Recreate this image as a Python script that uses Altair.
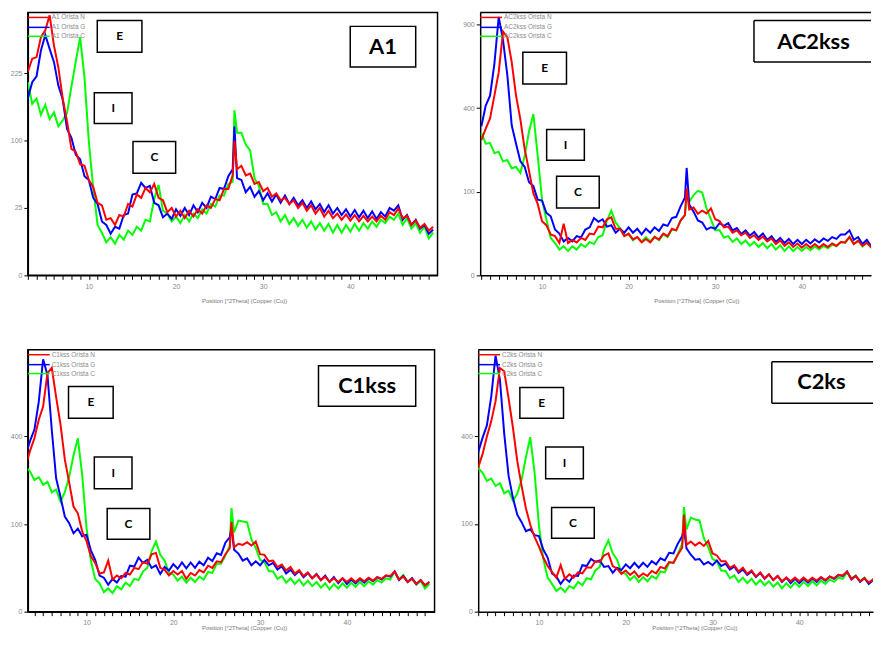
import altair as alt
import pandas as pd

# 2-theta positions (degrees)
X = [3.0, 3.5, 4.0, 4.5, 5.0, 5.5, 6.0, 6.5, 7.0, 7.5, 8.0, 8.5, 9.0, 9.5, 10.0, 10.5, 11.0, 11.5, 12.0, 12.5,
     13.0, 13.5, 14.0, 14.5, 15.0, 15.5, 16.0, 16.5, 17.0, 17.5, 18.0, 18.5, 19.0, 19.5, 20.0, 20.5, 21.0, 21.5,
     22.0, 22.5, 23.0, 23.5, 24.0, 24.5, 25.0, 25.5, 26.0, 26.5, 26.7, 27.0, 27.5, 28.0, 28.5, 29.0, 29.5, 30.0,
     30.5, 31.0, 31.5, 32.0, 32.5, 33.0, 33.5, 34.0, 34.5, 35.0, 35.5, 36.0, 36.5, 37.0, 37.5, 38.0, 38.5, 39.0,
     39.5, 40.0, 40.5, 41.0, 41.5, 42.0, 42.5, 43.0, 43.5, 44.0, 44.5, 45.0, 45.5, 46.0, 46.5, 47.0, 47.5, 48.0,
     48.5, 49.0, 49.5]

# ---- A1 ----
A1_N = [228, 258, 262, 312, 330, 372, 290, 238, 172, 130,
        88, 84, 68, 66, 50, 43, 29, 27, 17, 18,
        14, 20, 19, 28, 26, 36, 33, 42, 38, 46,
        33, 31, 22, 25, 19, 23, 18, 23, 19, 24,
        21, 27, 25, 32, 31, 41, 41, 55,
        100,
        62, 66, 55, 57, 46, 48, 39, 42, 34, 37,
        31, 33, 28, 31, 25, 29, 23, 27, 21, 25,
        19, 23, 18, 21, 17, 20.5, 16.5, 20, 16, 19.5,
        16, 19, 16, 19.5, 17, 22, 20, 24.5, 18, 19.5,
        14, 16.5, 12.5, 14.5, 11, 13]
A1_G = [172, 205, 218, 278, 318, 282, 250, 198, 170, 118,
        104, 80, 74, 54, 50, 33, 28, 16, 14, 9.5,
        13, 12, 20, 21, 36, 37, 47, 42, 44, 29,
        27, 18.5, 21, 17.5, 24, 19.5, 25, 20, 27, 22,
        29, 25, 34, 32, 42, 41, 54, 62,
        122,
        52, 50, 38, 43, 34, 39, 31, 37, 30, 36,
        29, 35, 28, 33, 27, 31, 25, 30, 24, 28,
        22, 27, 21, 25, 20, 24, 19, 23.5, 18.5, 23,
        18, 22.5, 17.5, 22, 19, 25, 23, 27, 17, 20,
        14, 17, 12, 14, 9.5, 11.5]
A1_C = [205, 162, 172, 142, 160, 134, 146, 122, 132, 145,
        196, 252, 312, 215, 98, 42, 14, 10, 6, 8,
        5.5, 9, 7, 11, 9, 13, 11, 17, 16, 32,
        45, 23, 21, 16, 19, 15, 20, 16, 21, 18,
        24, 21, 28, 26, 35, 35, 46, 48,
        150,
        112, 112, 94, 86, 52, 44, 28, 28, 20, 22,
        16, 20, 14.5, 18, 13.5, 17, 12.5, 16, 11.5, 15,
        11, 14.5, 10, 14, 10, 14, 10.5, 14.5, 11, 15,
        12, 16, 13, 17, 15, 19, 17, 21, 14, 18,
        12, 15, 10, 13, 7.5, 10]

# ---- AC2kss ----
AC2_N = [262, 308, 352, 462, 590, 850, 810, 650, 462, 348,
         228, 156, 96, 73, 42, 36, 24, 22, 15, 38,
         15, 18, 15.5, 20, 18, 25, 24, 34, 33, 45,
         48, 31, 31, 22, 25, 18.5, 21, 15.5, 19, 15.5,
         21, 18.5, 25, 22, 31, 29, 43, 52,
         108,
         62, 66, 54, 60, 55, 64, 45, 42, 33, 34,
         26, 29, 23, 26, 20, 23, 18, 21.5, 16.5, 19.5,
         14, 17.5, 12.5, 15.5, 11.5, 14.5, 11, 14, 11, 14,
         11, 14, 11.5, 14.5, 12.5, 16, 15.5, 21, 14, 17,
         12.5, 15, 11.5, 14, 10.5, 13]
AC2_G = [318, 412, 462, 640, 955, 790, 570, 322, 248, 186,
         168, 124, 114, 82, 80, 56, 50, 30, 25, 16.5,
         20, 16.5, 22, 20.5, 30, 33, 47, 41, 45, 34,
         36, 26, 31, 26, 33, 26, 31, 24, 31, 26,
         33, 28, 37, 35, 47, 49, 68, 86,
         165,
         72, 58, 43, 40, 30, 33, 31, 39, 35, 39,
         29, 32, 24.5, 29, 22.5, 27, 20.5, 25, 18, 22,
         16, 20, 15, 19, 14, 18, 14, 18, 14.5, 18.5,
         15.5, 19.5, 17, 21, 19, 24, 24, 29, 18, 21,
         14, 18, 12, 15.5, 11, 14]
AC2_C = [290, 248, 250, 214, 218, 186, 190, 164, 168, 150,
         205, 296, 372, 205, 82, 45, 20, 15, 9.5, 12,
         8.5, 12, 9.5, 14, 11.5, 16, 14, 21, 23, 43,
         60, 40, 32, 22.5, 24, 17.5, 21, 16.5, 21, 16.5,
         21.5, 17.5, 24, 21, 30, 29, 43, 52,
         90,
         78, 92, 102, 98, 64, 45, 29, 29, 20.5, 22,
         16, 19.5, 14, 17.5, 12.5, 16, 11.5, 15, 10.5, 14,
         9.5, 13, 8.5, 12, 8.5, 11.5, 8.5, 11.5, 9, 12,
         9.5, 12.5, 10.5, 13.5, 12, 16, 15, 21, 14, 17.5,
         12, 15.5, 11, 15, 11, 14.5]

# ---- C1kss ----
C1_N = [280, 338, 392, 480, 548, 742, 775, 600, 458, 302,
        218, 144, 126, 84, 65, 40, 31, 19, 20, 34,
        13.5, 17, 14.5, 19.5, 18, 25, 23.5, 32, 30, 43,
        45, 25, 23, 17, 21.5, 18, 21.5, 14, 19.5, 17,
        22.5, 20, 27.5, 25, 33, 32, 43, 52,
        105,
        54, 60, 58, 63, 57, 64, 43, 42, 33, 34,
        26, 29, 22, 26, 19, 22.5, 16.5, 20, 14.5, 18,
        13, 16, 11.5, 14.5, 11.5, 14.5, 11.5, 14.5, 11.5, 14.5,
        12, 15, 12.5, 15.5, 14, 17, 16.5, 21, 13.5, 16,
        11.5, 14, 10, 13, 9, 11.5]
C1_G = [322, 380, 432, 575, 830, 730, 430, 232, 172, 118,
        102, 80, 90, 74, 77, 49, 35, 17, 15, 9.5,
        14, 11, 16.5, 16, 27.5, 26.5, 38, 31, 35, 25,
        28, 18.5, 26, 22, 29.5, 24, 31.5, 24.5, 31.5, 25,
        32.5, 28, 38, 33.5, 44.5, 42, 62, 72,
        92,
        50, 44, 34, 37, 28, 33, 28, 35, 28, 31,
        23, 27, 19, 23, 17.5, 21.5, 15.5, 19.5, 14.5, 18.5,
        13, 17, 11.5, 15.5, 10.5, 14.5, 10, 13.5, 10.5, 14,
        11, 14.5, 12, 15.5, 13.5, 17, 16, 21, 13, 16.5,
        11.5, 14.5, 10, 13, 9, 11.5]
C1_C = [272, 256, 226, 236, 210, 220, 186, 194, 158, 186,
        236, 318, 392, 245, 92, 34, 14, 10.5, 5, 7,
        4.5, 8.5, 6.5, 11, 8.5, 14, 13, 21, 25, 48,
        64, 42, 34, 19.5, 18, 12.5, 16, 11, 15, 11.5,
        16, 13.5, 20.5, 19.5, 30, 30, 41, 57,
        140,
        82, 108, 106, 104, 68, 53, 35, 32, 21.5, 21,
        14, 16.5, 11, 14.5, 10, 13.5, 9, 12.5, 8.5, 11.5,
        7.5, 10.5, 6.5, 10, 7, 10.5, 7.5, 11, 8, 11.5,
        8.5, 12, 9.5, 13, 11, 14.5, 13.5, 21, 14, 17.5,
        11.5, 14.5, 9.5, 12.5, 7, 10]

# ---- C2ks ----
C2_N = [270, 322, 398, 470, 575, 770, 750, 590, 440, 295,
        205, 138, 98, 72, 55, 38, 27, 20.5, 15, 28,
        14, 18, 15, 20, 19, 25.5, 25, 33, 32, 41,
        44, 27, 24, 18.5, 22, 17.5, 21, 15.5, 19, 16.5,
        21.5, 19, 26, 24, 32, 31, 42, 53,
        122,
        58, 64, 57, 62, 56, 65, 44, 41, 33, 33,
        25, 28, 21, 25, 18.5, 22, 16, 20, 14.5, 18,
        13, 16.5, 12, 15, 12, 15, 12, 15, 12, 15,
        12.5, 15.5, 13, 16, 14.5, 17.5, 17, 20.5, 14, 16.5,
        12, 14.5, 11, 13.5, 10, 12]
C2_G = [330, 392, 450, 600, 850, 700, 410, 240, 168, 122,
        104, 84, 88, 76, 74, 50, 38, 19, 16, 10,
        14.5, 11.5, 17, 16.5, 28, 27, 36, 32, 34, 26,
        27, 19.5, 25, 22.5, 29, 24.5, 31, 25, 31, 26,
        33, 29, 37, 34, 45, 44, 60, 74,
        90,
        52, 42, 35, 36, 29, 32, 28, 34, 27, 30,
        23, 26.5, 19.5, 23, 17.5, 21, 15.5, 19.5, 14, 18,
        13, 16.5, 11.5, 15, 10.5, 14, 10.5, 14, 11, 14.5,
        11.5, 15, 12.5, 16, 14, 17.5, 16.5, 21, 13.5, 16.5,
        11.5, 14.5, 10, 13, 9.5, 12]
C2_C = [268, 250, 222, 230, 205, 214, 182, 190, 160, 180,
        226, 310, 395, 250, 96, 36, 15, 10, 5.5, 7.5,
        5, 8.5, 7, 11.5, 9, 14.5, 13.5, 22, 26, 50,
        66, 44, 35, 20, 18.5, 13, 16.5, 11.5, 15.5, 12,
        16.5, 14, 21, 20, 31, 31, 43, 60,
        142,
        88, 115, 110, 108, 70, 54, 36, 33, 22, 21.5,
        14.5, 17, 11.5, 15, 10.5, 14, 9.5, 13, 9, 12,
        8, 11, 7, 10.5, 7.5, 11, 8, 11.5, 8.5, 12,
        9, 12.5, 10, 13.5, 11.5, 15, 14, 20, 14.5, 17,
        12, 15, 10, 13, 8, 11]

X_TICKS = list(range(3, 50))
X_TITLE = "Position [°2Theta] (Copper (Cu))"

RED, BLUE, GREEN = "#ff0000", "#0000ff", "#00ff00"
DUMMY = pd.DataFrame({"d": [0]})


def rule(x0, x1, y0, y1, color="black", sw=1.5):
    return alt.Chart(DUMMY).mark_rule(color=color, strokeWidth=sw).encode(
        x=alt.value(x0), x2=alt.value(x1), y=alt.value(y0), y2=alt.value(y1))


def panel(name, n, g, c, xdom, ymax, yticks, w, h, yext, big_box, big_center, small_boxes, sample,
          cut_right=False, title_pad=7, x_ext=15):
    df = pd.DataFrame({"x": X, "N": n, "G": g, "C": c})
    xscale = alt.Scale(domain=xdom, nice=False, zero=False)
    yscale = alt.Scale(type="sqrt", domain=[0, ymax], nice=False, zero=True)
    xaxis = alt.Axis(values=X_TICKS, labelExpr="datum.value % 10 === 0 ? datum.value : ''",
                     title=X_TITLE, grid=False, tickSize=4, tickColor="black", tickWidth=1,
                     domainColor="black", domainWidth=1.5, labelFontSize=7, labelColor="#888888",
                     labelPadding=3, labelOverlap=False, labelFlush=False,
                     titleFontSize=6, titleFontWeight="normal", titleColor="#777777",
                     titlePadding=title_pad, titleX=218, minExtent=x_ext, maxExtent=x_ext)
    yaxis = alt.Axis(values=yticks, title=None, grid=False, tickSize=4, tickColor="black",
                     domainColor="black", domainWidth=1.5, labelFontSize=7, labelColor="#888888",
                     labelPadding=2, minExtent=yext, maxExtent=yext)
    layers = []
    for key, col in [("C", GREEN), ("G", BLUE), ("N", RED)]:
        layers.append(alt.Chart(df).mark_line(color=col, strokeWidth=2, clip=True).encode(
            x=alt.X("x:Q", scale=xscale, axis=xaxis),
            y=alt.Y(f"{key}:Q", scale=yscale, axis=yaxis)))
    # legend inside top-left
    for (key, col), ry in zip([("N", RED), ("G", BLUE), ("C", GREEN)], [5, 15, 24]):
        layers.append(rule(0, 22, ry, ry, col))
        layers.append(alt.Chart(DUMMY).mark_text(text=f"{sample} {key}", fontSize=6.5, color="#8a8a8a",
                                                 align="left", baseline="middle").encode(
            x=alt.value(24), y=alt.value(ry)))
    # sample label box
    x0, x1, y0, y1 = big_box
    if cut_right:
        x1 = w
        layers.append(alt.Chart(DUMMY).mark_rect(fill="white").encode(
            x=alt.value(x0), x2=alt.value(x1), y=alt.value(y0), y2=alt.value(y1)))
        layers.append(rule(x0, x1, y0, y0))
        layers.append(rule(x0, x1, y1, y1))
        layers.append(rule(x0, x0, y0, y1))
    else:
        layers.append(alt.Chart(DUMMY).mark_rect(fill="white", stroke="black", strokeWidth=1.5).encode(
            x=alt.value(x0), x2=alt.value(x1), y=alt.value(y0), y2=alt.value(y1)))
    layers.append(alt.Chart(DUMMY).mark_text(text=name, font="Lato", fontWeight="bold", fontSize=22,
                                             color="black", align="center", baseline="middle").encode(
        x=alt.value(big_center[0]), y=alt.value(big_center[1])))
    for lab, (bx0, bx1, by0, by1) in small_boxes:
        layers.append(alt.Chart(DUMMY).mark_rect(fill="white", stroke="black", strokeWidth=1.5).encode(
            x=alt.value(bx0), x2=alt.value(bx1), y=alt.value(by0), y2=alt.value(by1)))
        layers.append(alt.Chart(DUMMY).mark_text(text=lab, font="Lato", fontWeight="bold", fontSize=12,
                                                 color="black", align="center", baseline="middle").encode(
            x=alt.value((bx0 + bx1) / 2), y=alt.value((by0 + by1) / 2)))
    if cut_right:
        # the picture is cut at the right: only the top edge of the frame is visible
        layers.append(rule(0, w, 0, 0))
        return alt.layer(*layers).properties(width=w, height=h,
                                             view=alt.ViewBackground(stroke="transparent"))
    return alt.layer(*layers).properties(width=w, height=h)


pA1 = panel("A1", A1_N, A1_G, A1_C, [3.0, 50.0], 380, [0, 25, 100, 225], 413, 265, 19,
            (325, 391, 14, 55), (358, 35),
            [("E", (70, 115, 8, 40)), ("I", (67, 105, 81, 112)), ("C", (106, 149, 130, 162))],
            "A1 Orista")
pAC2 = panel("AC2kss", AC2_N, AC2_G, AC2_C, [2.86, 47.99], 988, [0, 100, 400, 900], 394, 265, 19,
             (276, 394, 8, 50), (336, 30),
             [("E", (43, 87, 40, 72)), ("I", (67, 105, 118, 149)), ("C", (77, 120, 165, 197))],
             "AC2kss Orista", cut_right=True)
pC1 = panel("C1kss", C1_N, C1_G, C1_C, [3.24, 50.1], 894, [0, 100, 400], 410, 264, 16,
            (293, 391, 16, 57), (342, 37),
            [("E", (41, 86, 37, 69)), ("I", (67, 105, 108, 140)), ("C", (80, 123, 160, 191))],
            "C1kss Orista", title_pad=0, x_ext=13)
pC2 = panel("C2ks", C2_N, C2_G, C2_C, [3.0, 48.49], 890, [0, 100, 400], 398, 264, 16,
            (296, 396, 12, 54), (346, 33),
            [("E", (42, 86, 38, 69)), ("I", (68, 106, 98, 130)), ("C", (74, 117, 159, 190))],
            "C2ks Orista", cut_right=True, title_pad=0, x_ext=13)

top = alt.hconcat(pA1, pAC2, spacing=22)
bottom = alt.hconcat(pC1, pC2, spacing=24)
chart = alt.vconcat(top, bottom, spacing=44).properties(
    padding={"left": 0, "top": 0, "right": 0, "bottom": 0}
).configure(font="Liberation Sans", background="white").configure_view(
    stroke="black", strokeWidth=1.5
)

chart.save("out.html", embed_options={"renderer": "svg", "actions": False})
